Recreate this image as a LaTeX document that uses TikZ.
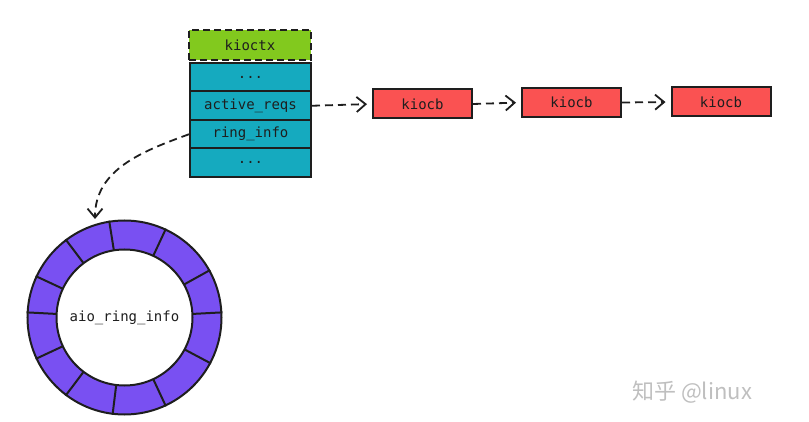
\documentclass[tikz,border=0pt]{standalone}
\usepackage{fontspec}
\usetikzlibrary{arrows.meta,calc}
\newfontfamily\monofnt{DejaVu Sans Mono}
\newfontfamily\cjkfnt{Noto Sans CJK SC}
\definecolor{exgreen}{HTML}{82C91E}
\definecolor{excyan}{HTML}{15AABF}
\definecolor{exred}{HTML}{FA5252}
\definecolor{exviolet}{HTML}{7950F2}
\definecolor{exink}{HTML}{1E1E1E}
\tikzset{
  box/.style={draw=exink, line width=2pt, rectangle, inner sep=0pt,
    text=exink, font=\monofnt\fontsize{14}{16}\selectfont},
  stackrow/.style={box, fill=excyan, minimum width=121pt, minimum height=28.5pt},
  cbbox/.style={box, fill=exred, minimum width=99pt, minimum height=29pt},
  conn/.style={draw=exink, line width=1.8pt, dash pattern=on 8pt off 5pt,
    -{Straight Barb[length=9pt,width=15pt,line width=1.8pt]}, shorten >=5pt},
  ringline/.style={draw=exink, line width=2pt},
}
\begin{document}
\begin{tikzpicture}[x=1pt,y=-1pt]
\useasboundingbox (0,0) rectangle (809,422);
% kioctx
\node[box, fill=exgreen, dash pattern=on 7pt off 4pt, minimum width=122pt, minimum height=30pt] (kioctx) at (250,45) {kioctx};
% stack
\node[stackrow] (r1) at (250.5,77.25) {...};
\node[stackrow] (r2) at (250.5,105.75) {active\_reqs};
\node[stackrow] (r3) at (250.5,134.25) {ring\_info};
\node[stackrow] (r4) at (250.5,162.75) {...};
% kiocb list
\node[cbbox] (k1) at (422.5,104) {kiocb};
\node[cbbox] (k2) at (571.5,102.5) {kiocb};
\node[cbbox] (k3) at (721,102) {kiocb};
\draw[conn] (r2.east) -- (k1.west);
\draw[conn] (k1.east) -- (k2.west);
\draw[conn] (k2.east) -- (k3.west);
% ring
\coordinate (rc) at (124.5,317.5);
\fill[exviolet, even odd rule] (rc) circle (97) (rc) circle (68);
\draw[ringline] (rc) circle (97);
\draw[ringline] (rc) circle (68);
\foreach \a in {97,127,155,183,205,233,261,295,331,357,28,65}{
  \draw[ringline] ($(rc)+(\a:68)$) -- ($(rc)+(\a:98)$);
}
\node[inner sep=0pt, text=exink, font=\monofnt\fontsize{14}{16}\selectfont] (ring) at (rc) {aio\_ring\_info};
\coordinate (tip) at (95,219);
\draw[conn, shorten >=0pt] (r3.west) to[out=200,in=90] (tip);
% watermark
\node[inner sep=0pt, anchor=west, text=black!25, font=\cjkfnt\fontsize{22}{24}\selectfont] (wm) at (632,392) {知乎 @linux};
\end{tikzpicture}
\end{document}
